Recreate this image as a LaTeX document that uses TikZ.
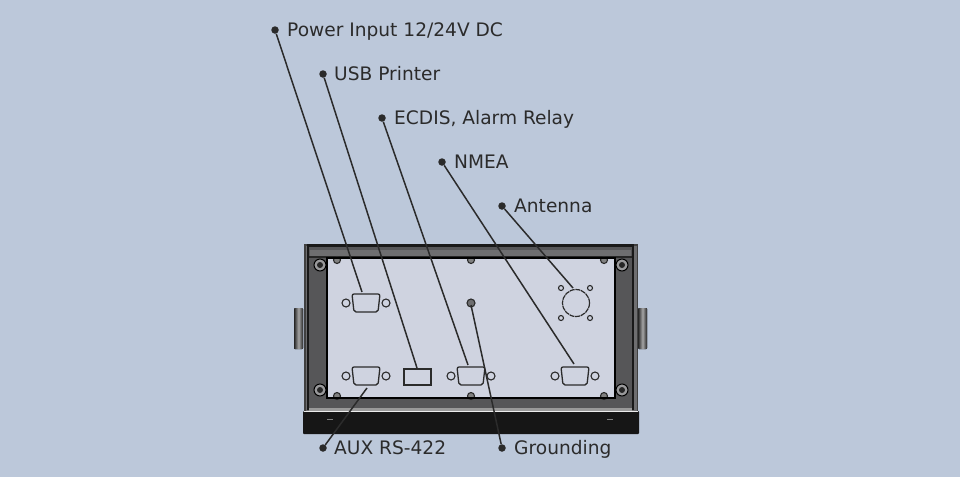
\documentclass[tikz,border=0pt]{standalone}
\usepackage{fontspec}
\setmainfont{DejaVu Sans}
\definecolor{bgc}{HTML}{BCC8DA}
\definecolor{panelc}{HTML}{CFD3E0}
\definecolor{inkc}{HTML}{2B2B2B}
\definecolor{framec}{HTML}{565658}
\definecolor{bevelc}{HTML}{6E6E70}
\definecolor{basec}{HTML}{161616}
\tikzset{
  x=1pt,y=-1pt,
  bullet/.style={circle,fill=inkc,inner sep=0pt,minimum size=7.5pt},
  lab/.style={anchor=base west,inner sep=0pt,text=inkc,font=\fontsize{18.6}{20}\selectfont},
  leader/.style={draw=inkc,line width=1.5pt},
  hole/.style={draw=inkc,line width=1.1pt,fill=panelc},
  conn/.style={draw=inkc,line width=1.3pt,fill=panelc,rounded corners=2pt},
  screw/.style={draw=black,line width=1pt,fill=bevelc!70},
}
\newcommand{\dbnine}[2]{%
  \draw[hole] (#1-20,#2) circle (4);
  \draw[hole] (#1+20,#2) circle (4);
  \draw[conn] (#1-14,#2-9) -- (#1+14,#2-9) -- (#1+12,#2+9) -- (#1-12,#2+9) -- cycle;
}
\begin{document}
\begin{tikzpicture}
\useasboundingbox (0,0) rectangle (960,477);
\fill[bgc] (0,0) rectangle (960,477);
% side knobs
\fill[left color=black!85,right color=black!85,middle color=black!35,rounded corners=1pt] (294,308) rectangle (303,349);
\fill[left color=black!85,right color=black!85,middle color=black!35,rounded corners=1pt] (638,308) rectangle (647,349);
% base
\fill[basec,rounded corners=1pt] (303,411) rectangle (639,434);
\fill[black!50] (327,418.5) rectangle (333,420);
\fill[black!50] (607,418.5) rectangle (613,420);
% frame
\fill[black!75] (304,244) rectangle (638,412);
\fill[bevelc] (305.5,246) rectangle (636.5,412);
\fill[black!90] (307,244) rectangle (634,410);
\fill[framec] (309,247) rectangle (632,408);
\fill[bevelc] (310,250) -- (631,250) -- (631,256) -- (310,256) -- cycle;
\fill[black!85] (309,256) rectangle (632,258);
\fill[framec] (309,258) rectangle (632,398);
\fill[black!40] (309,408) rectangle (632,411);
\fill[white!85!gray] (304,411) rectangle (638,412.3);
\draw[black,line width=1.4pt,fill=panelc] (327,258) rectangle (615,398);
% screws
\foreach \p in {(320,265),(320,390),(622,265),(622,390)}
  \draw[screw] \p circle (6);
\foreach \p in {(320,265),(320,390),(622,265),(622,390)}
  \fill[black!85] \p circle (3);
\foreach \p in {(337,260),(337,396),(471,260),(471,396),(604,260),(604,396)}
  \draw[hole,fill=gray] \p circle (3.5);
\draw[black,line width=1.4pt] (327,258) rectangle (615,398);
% connectors
\dbnine{366}{303}
\dbnine{366}{376}
\dbnine{471}{376}
\dbnine{575}{376}
\draw[draw=inkc,line width=1.3pt,fill=panelc] (404,369) rectangle (431,385);
\draw[hole,fill=bevelc] (471,303) circle (4);
\draw[inkc,line width=1.2pt,dash pattern=on 5pt off 0.7pt,fill=panelc] (576,303) circle (13.5);
\foreach \p in {(561,288),(590,288),(561,318),(590,318)}
  \draw[hole] \p circle (2.5);
% bullets and labels
\node[bullet] (bp) at (275,30) {};
\node[bullet] (bu) at (323,74) {};
\node[bullet] (be) at (382,118) {};
\node[bullet] (bn) at (442,162) {};
\node[bullet] (ba) at (502,206) {};
\node[bullet] (bx) at (323,448) {};
\node[bullet] (bg) at (502,448) {};
\node[lab] (lp) at (287,36) {Power Input 12/24V DC};
\node[lab] (lu) at (334,80) {USB Printer};
\node[lab] (le) at (394,124) {ECDIS, Alarm Relay};
\node[lab] (ln) at (454,168) {NMEA};
\node[lab] (la) at (514,212) {Antenna};
\node[lab] (lx) at (334,454) {AUX RS-422};
\node[lab] (lg) at (514,454) {Grounding};
% leader ends
\coordinate (ep) at (362,292);
\coordinate (eu) at (417,368);
\coordinate (ee) at (468,365);
\coordinate (en) at (574,364);
\coordinate (ea) at (573,288);
\coordinate (ex) at (367,388);
\coordinate (eg) at (471,305);
\draw[leader] (bp) -- (ep);
\draw[leader] (bu) -- (eu);
\draw[leader] (be) -- (ee);
\draw[leader] (bn) -- (en);
\draw[leader] (ba) -- (ea);
\draw[leader] (bx) -- (ex);
\draw[leader] (bg) -- (eg);
\end{tikzpicture}
\end{document}
